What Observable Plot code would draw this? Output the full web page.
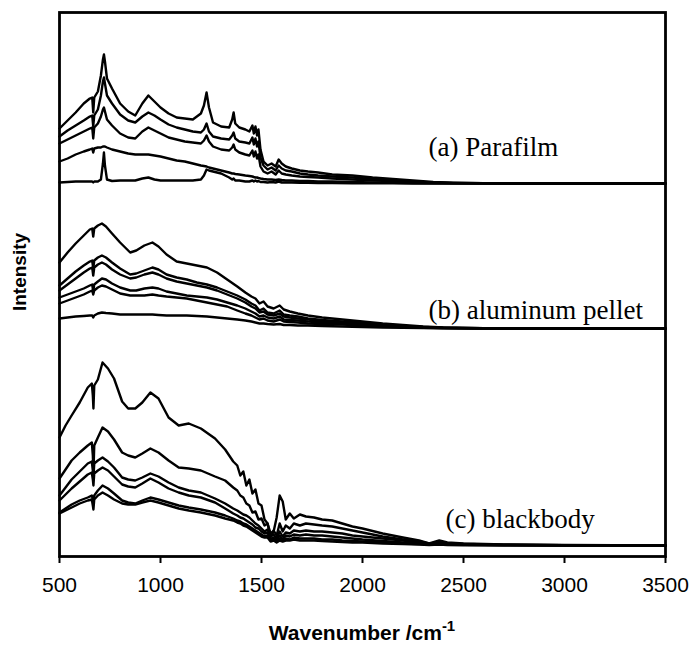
<!DOCTYPE html>
<html>
<head>
<meta charset="utf-8">
<script src="https://cdn.jsdelivr.net/npm/d3@7"></script>
<script src="https://cdn.jsdelivr.net/npm/@observablehq/plot@0.6"></script>
<style>
  html, body { margin: 0; padding: 0; background: #fff; }
  #chart { width: 692px; height: 646px; }
</style>
</head>
<body>
<div id="chart"></div>
<script>
// ---------- axis ----------
const xTicks = [500, 1000, 1500, 2000, 2500, 3000, 3500];
const xDomain = [500, 3500];
const yDomain = [-11, 533];

// ---------- panel offsets (stacked spectra) ----------
const offsetA = 362;
const offsetB = 217;
const offsetC = 0;

// ---------- panel labels ----------
const labelText = ["(a) Parafilm", "(b) aluminum pellet", "(c) blackbody"];
const labelWn = [2327, 2327, 2411];
const labelY = [390, 227, 18];

// ---------- (a) Parafilm ----------
const wnA = [500, 540, 580, 620, 650, 662, 667, 672, 690, 705, 715, 720, 725, 735, 760, 800, 840, 875, 910, 940,
  970, 1000, 1040, 1080, 1120, 1160, 1200, 1215, 1228, 1240, 1260, 1300, 1340, 1355, 1362, 1370, 1390, 1420, 1440, 1455,
  1462, 1470, 1478, 1485, 1495, 1510, 1530, 1550, 1570, 1585, 1600, 1620, 1650, 1690, 1730, 1780, 1850, 1950, 2050, 2150,
  2250, 2350, 2450, 2600, 3000, 3500];
const a1 = [55, 63, 71, 80, 85, 86, 71, 86, 92, 108, 124, 129, 122, 105, 95, 80, 72, 68, 80, 88,
  82, 76, 70, 66, 65, 64, 70, 78, 91, 76, 61, 57, 56, 64, 71, 60, 56, 54, 52, 58,
  50, 57, 48, 54, 34, 22, 18, 20, 17, 24, 20, 17, 15, 13, 12, 11, 9, 8, 6, 4.5,
  3, 1.5, 0.8, 0.3, 0, 0];
const a2 = [47, 53, 58, 63, 67, 68, 57, 68, 74, 88, 102, 106, 100, 88, 80, 69, 63, 61, 67, 71,
  68, 64, 59, 56, 54, 52, 51, 54, 60, 52, 47, 45, 44, 48, 51, 45, 42, 41, 40, 46,
  39, 45, 37, 42, 26, 18, 14, 16, 13, 18, 15, 13, 12, 10, 9, 8, 7, 6, 4.5, 3.5,
  2, 1, 0.5, 0.2, 0, 0];
const a3 = [40, 44, 48, 52, 55, 56, 45, 56, 60, 67, 74, 76, 72, 64, 58, 50, 46, 45, 52, 56,
  53, 50, 46, 44, 42, 41, 40, 43, 48, 42, 37, 34, 33, 36, 39, 34, 31, 29, 28, 33,
  27, 32, 25, 29, 17, 12, 10, 12, 9, 13, 10, 9, 8, 7, 6.5, 6, 5, 4, 3, 2.5,
  1.5, 0.8, 0.4, 0.1, 0, 0];
const a4 = [22, 25, 29, 32, 34, 35, 31, 35, 36, 36, 37, 37, 37, 36, 34, 32, 30, 29, 29, 29,
  28, 27, 25, 23, 22, 20, 18, 17.5, 17, 16, 15, 13, 11, 10, 10, 9.5, 9, 8, 7.5, 7,
  6.5, 6, 6, 5.5, 5, 4.5, 4, 4, 3.5, 4, 3.5, 3, 3, 2.5, 2.5, 2, 2, 1.5, 1, 0.8,
  0.5, 0.3, 0.2, 0.1, 0, 0];
const a5 = [1, 1.5, 2, 2, 2, 2, 1, 2, 2, 4, 20, 31, 18, 4, 2.5, 3, 3, 3, 5, 6,
  4, 3, 3, 3, 3, 3, 4, 8, 14, 13, 12, 10, 6, 4, 5, 3, 3, 2, 2, 3,
  2, 3, 2, 2.5, 1.5, 1.5, 1, 1.5, 1, 2, 1, 1, 1, 0.8, 0.8, 0.5, 0.5, 0.3, 0.2, 0.1,
  0, 0, 0, 0, 0, 0];

// ---------- (b) aluminum pellet ----------
const wnB = [500, 540, 580, 620, 650, 662, 667, 672, 690, 710, 730, 760, 800, 850, 880, 920, 960, 990, 1030, 1080,
  1130, 1180, 1230, 1280, 1330, 1380, 1420, 1450, 1470, 1490, 1510, 1530, 1560, 1590, 1610, 1640, 1680, 1730, 1800, 1900,
  2000, 2100, 2200, 2300, 2400, 2600, 3000, 3500];
const b1 = [66, 76, 85, 93, 99, 100, 92, 100, 103, 105, 102, 95, 86, 76, 78, 83, 86, 82, 74, 67,
  65, 63, 61, 56, 49, 42, 36, 32, 30, 25, 27, 22, 20, 23, 19, 17, 15, 13, 11, 9,
  7, 5, 3.5, 2, 1, 0.3, 0, 0];
const b2 = [43, 50, 57, 63, 67, 68, 60, 68, 71, 73, 71, 66, 60, 54, 55, 58, 61, 59, 54, 51,
  49, 46, 44, 41, 37, 33, 29, 25, 23, 18, 20, 16, 15, 18, 14, 13, 12, 10, 8.5, 7,
  5.5, 4, 2.5, 1.5, 0.8, 0.2, 0, 0];
const b3 = [38, 44, 50, 56, 60, 61, 53, 61, 64, 66, 64, 59, 54, 50, 51, 54, 56, 54, 50, 47,
  45, 43, 41, 38, 34, 30, 26, 22, 20, 16, 17, 14, 13, 15, 12, 11, 10, 9, 7.5, 6,
  5, 3.5, 2.2, 1.2, 0.6, 0.2, 0, 0];
const b4 = [31, 34, 37, 40, 43, 44, 37, 44, 47, 50, 49, 45, 41, 38, 38, 40, 41, 40, 37, 35,
  33, 32, 31, 29, 26, 23, 20, 17, 15, 12, 13, 11, 10, 12, 9, 8.5, 8, 7, 6, 5,
  4, 3, 2, 1, 0.5, 0.1, 0, 0];
const b5 = [25, 28, 31, 34, 37, 38, 34, 38, 41, 43, 42, 39, 35, 33, 33, 33, 34, 33, 32, 31,
  30, 28, 26, 24, 22, 18, 15, 13, 11, 9, 10, 8, 7, 9, 7, 6.5, 6, 5, 4.5, 4,
  3, 2.2, 1.5, 0.8, 0.4, 0.1, 0, 0];
const b6 = [10, 11, 12, 12.5, 13, 13, 11, 13, 15, 16, 15.5, 15, 14, 14, 14, 14, 14, 13.5, 13, 13,
  13, 12.5, 12, 11, 10, 9, 8, 7, 6, 5, 5, 4.5, 4, 4.5, 3.5, 3.5, 3, 3, 2.5, 2,
  1.5, 1, 0.7, 0.4, 0.2, 0, 0, 0];

// ---------- (c) blackbody ----------
const wnC = [500, 530, 560, 600, 640, 660, 665, 668, 672, 690, 713, 740, 770, 810, 840, 875, 910, 950, 990, 1040,
  1090, 1140, 1200, 1270, 1320, 1360, 1380, 1395, 1410, 1425, 1440, 1455, 1470, 1485, 1500, 1515, 1530, 1545, 1560, 1575,
  1590, 1605, 1620, 1640, 1660, 1690, 1720, 1760, 1800, 1850, 1900, 1950, 2000, 2100, 2200, 2280, 2330, 2380, 2420, 2500,
  2700, 3000, 3500];
const c1 = [108, 120, 130, 143, 158, 162, 150, 137, 160, 166, 183, 177, 167, 144, 137, 137, 143, 153, 147, 128,
  120, 122, 117, 107, 96, 84, 80, 70, 74, 60, 66, 52, 56, 42, 40, 26, 22, 8, 14, 28,
  50, 44, 26, 32, 27, 31, 29, 28, 26, 25, 22, 19, 17, 12, 8, 5, 2, 5, 3, 2,
  1, 0.5, 0];
const c2 = [67, 76, 85, 93, 100, 103, 90, 72, 100, 108, 118, 114, 106, 93, 90, 88, 92, 97, 93, 85,
  78, 77, 75, 69, 65, 58, 55, 50, 48, 42, 40, 33, 34, 26, 27, 20, 22, 12, 15, 10,
  22, 14, 20, 17, 22, 20, 22, 21, 20, 19, 17, 15, 13, 9, 6, 4, 2, 3, 2, 1.5,
  0.8, 0.3, 0];
const c3 = [50, 58, 66, 74, 82, 84, 75, 68, 82, 85, 88, 84, 78, 68, 66, 65, 68, 72, 69, 63,
  58, 55, 53, 47, 42, 37, 35, 33, 31, 30, 28, 25, 22, 20, 17, 14, 16, 9, 11, 7,
  14, 9, 13, 12, 15, 14, 15, 14, 14, 13, 12, 10, 9, 7, 5, 3, 2, 2.5, 1.5, 1,
  0.5, 0.2, 0];
const c4 = [45, 51, 57, 64, 71, 73, 66, 60, 72, 75, 78, 75, 69, 61, 59, 58, 62, 67, 63, 57,
  53, 50, 48, 43, 37, 32, 30, 28, 27, 25, 23, 21, 18, 17, 14, 12, 13, 6, 8, 5,
  10, 6, 10, 9, 11, 10, 11, 10, 10, 9, 8, 7, 6, 4.5, 3, 2, 1.5, 2, 1, 0.8,
  0.4, 0.2, 0];
const c5 = [33, 37, 41, 45, 48, 50, 46, 42, 50, 55, 60, 57, 52, 45, 43, 42, 45, 48, 46, 43,
  40, 38, 36, 33, 30, 27, 25, 24, 22, 21, 19, 17, 15, 13, 11, 9, 10, 5, 6, 4,
  7, 5, 7, 6, 8, 7, 7, 7, 6, 6, 5, 4.5, 4, 3, 2, 1.5, 1, 1.5, 1, 0.6,
  0.3, 0.1, 0];
const c6 = [32, 35, 38, 42, 45, 46, 40, 36, 46, 50, 53, 50, 46, 42, 41, 41, 43, 45, 43, 40,
  37, 35, 33, 30, 27, 25, 23, 22, 20, 19, 17, 15, 13, 11, 9, 8, 8, 4, 5, 3,
  5, 4, 5, 5, 6, 5, 5, 5, 4.5, 4, 3.5, 3, 3, 2, 1.5, 1, 0.5, 1, 0.5, 0.3,
  0.1, 0, 0];

// ---------- build table ----------
const panels = [
  {key: "a", wn: wnA, offset: offsetA, curves: [a1, a2, a3, a4, a5]},
  {key: "b", wn: wnB, offset: offsetB, curves: [b1, b2, b3, b4, b5, b6]},
  {key: "c", wn: wnC, offset: offsetC, curves: [c1, c2, c3, c4, c5, c6]}
];
const rows = [];
for (const p of panels) {
  p.curves.forEach((vals, ci) => {
    if (vals.length !== p.wn.length) console.warn("length mismatch", p.key, ci, vals.length, p.wn.length);
    const n = Math.min(vals.length, p.wn.length);
    for (let i = 0; i < n; i++) {
      rows.push({id: p.key + ci, wn: p.wn[i], y: vals[i] + p.offset});
    }
  });
}
const labels = labelText.map((t, i) => ({text: t, wn: labelWn[i], y: labelY[i]}));

const W = 692, H = 646;
const plot = Plot.plot({
  width: W,
  height: H,
  marginLeft: 59,
  marginRight: 27,
  marginTop: 12,
  marginBottom: 90,
  style: {fontFamily: "'Liberation Sans', Arial, sans-serif", fontSize: "21px", background: "#fff", color: "#000"},
  x: {domain: xDomain, ticks: xTicks, tickSize: 7, tickPadding: 14, label: null, tickFormat: d => String(d)},
  y: {domain: yDomain, axis: null},
  marks: [
    Plot.line(rows, {x: "wn", y: "y", z: "id", stroke: "#000", strokeWidth: 2.4, strokeLinejoin: "round", curve: "linear"}),
    Plot.text(labels, {x: "wn", y: "y", text: "text", textAnchor: "start", lineAnchor: "bottom",
      fontFamily: "'Liberation Serif', 'Times New Roman', serif", fontSize: 27, fill: "#000"}),
    Plot.frame({stroke: "#000", strokeWidth: 2.8})
  ]
});
document.getElementById("chart").appendChild(plot);

// thicker axis ticks
const svg = d3.select(plot.tagName.toLowerCase() === "svg" ? plot : plot.querySelector("svg"));
svg.selectAll("g[aria-label='x-axis tick'] path, g[aria-label='x-axis'] path, g[aria-label='x-axis'] line")
  .attr("stroke-width", 2).attr("stroke", "#000");

// axis titles
const xs = plot.scale("x");
const xMid = xs.apply((xDomain[0] + xDomain[1]) / 2);
const xt = svg.append("text")
  .attr("x", xMid).attr("y", 640)
  .attr("text-anchor", "middle")
  .attr("font-family", "'Liberation Sans', Arial, sans-serif")
  .attr("font-weight", "bold").attr("font-size", 21).attr("fill", "#000");
xt.append("tspan").text("Wavenumber /cm");
xt.append("tspan").attr("dy", -9).attr("font-size", 15).text("-1");

svg.append("text")
  .attr("transform", "translate(26,272) rotate(-90)")
  .attr("text-anchor", "middle")
  .attr("font-family", "'Liberation Sans', Arial, sans-serif")
  .attr("font-weight", "bold").attr("font-size", 19).attr("fill", "#000")
  .text("Intensity");
</script>
</body>
</html>
